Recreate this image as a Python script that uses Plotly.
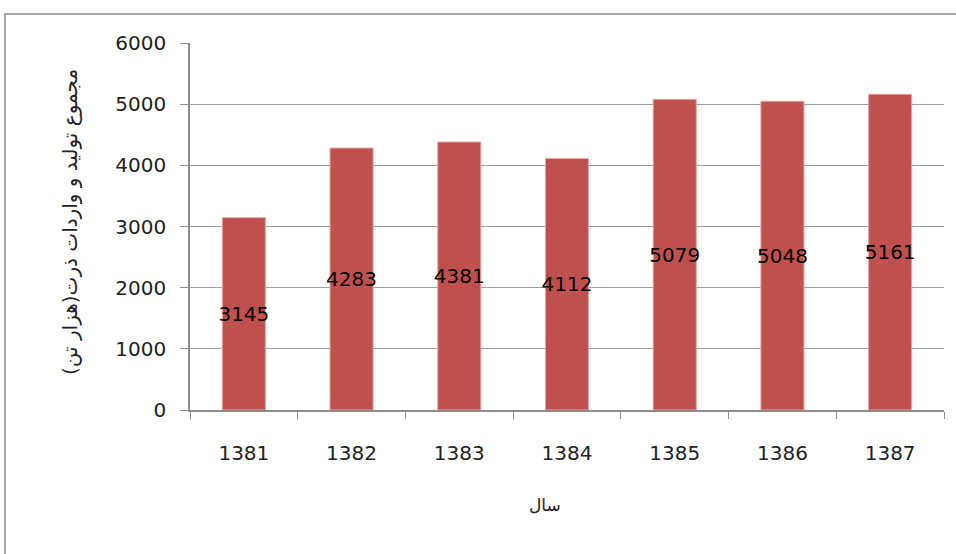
import plotly.graph_objects as go

years = ["1381", "1382", "1383", "1384", "1385", "1386", "1387"]
values = [3145, 4283, 4381, 4112, 5079, 5048, 5161]
y_title = "مجموع تولید و واردات ذرت(هزار تن)"
x_title = "سال"

L, R, T, B = 190, 12, 43, 144
W, H = 956, 554
pw, ph = W - L - R, H - T - B

fig = go.Figure(go.Bar(
    x=years, y=values, width=0.4,
    marker=dict(color="#C0504D", line=dict(color="#E6A9A7", width=1)),
    text=[str(v) for v in values], textposition="inside", insidetextanchor="middle",
    textfont=dict(family="DejaVu Sans", size=20, color="black"),
    textangle=0, constraintext="none", cliponaxis=False,
))

fig.update_layout(
    width=W, height=H, margin=dict(l=L, r=R, t=T, b=B, autoexpand=False),
    paper_bgcolor="white", plot_bgcolor="white", showlegend=False,
    font=dict(family="DejaVu Sans", color="#222"),
    uniformtext=dict(minsize=20, mode="show"),
    xaxis=dict(showline=True, linecolor="#8c8c8c", linewidth=1.5, ticks="outside",
               tickson="boundaries", ticklen=7, tickcolor="#8c8c8c",
               tickfont=dict(size=20, color="#222"), ticklabelstandoff=24,
               showgrid=False),
    yaxis=dict(range=[0, 6000], dtick=1000, showgrid=True, gridcolor="#a0a0a0",
               gridwidth=1, showline=True, linecolor="#8c8c8c", linewidth=1.5,
               ticks="outside", ticklen=8, tickcolor="#8c8c8c",
               tickfont=dict(size=20, color="#222"), ticklabelstandoff=10,
               zeroline=False),
    annotations=[
        dict(text=y_title, xref="paper", yref="paper", x=(70 - L) / pw,
             y=(H - B - 222) / ph, textangle=-90, showarrow=False,
             xanchor="center", yanchor="middle",
             font=dict(family="DejaVu Sans", size=20, color="#222")),
        dict(text=x_title, xref="paper", yref="paper", x=(545 - L) / pw,
             y=-(505 - (H - B)) / ph, showarrow=False,
             xanchor="center", yanchor="middle",
             font=dict(family="DejaVu Sans", size=17, color="#222")),
    ],
    shapes=[dict(type="rect", xref="paper", yref="paper",
                 x0=(5 - L) / pw, x1=(975 - L) / pw,
                 y0=-(575 - (H - B)) / ph, y1=((H - B) - 14) / ph,
                 line=dict(color="#8a8a8a", width=1.5), layer="below")],
)

fig.write_html("out.html", config={"displayModeBar": False},
               post_script="document.body.style.margin='0px';document.body.style.overflow='hidden';")
